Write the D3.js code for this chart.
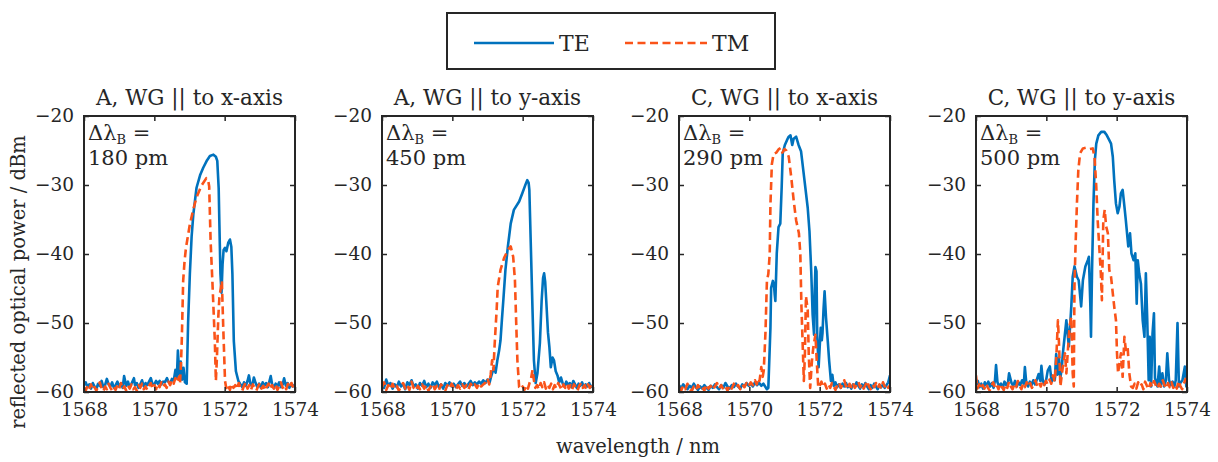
<!DOCTYPE html>
<html><head><meta charset="utf-8">
<script src="https://cdn.jsdelivr.net/npm/d3@7"></script>
<style>
html,body{margin:0;padding:0;background:#fff;}
text{font-family:"DejaVu Serif","Liberation Serif",serif;fill:#262626;}
</style></head>
<body>
<svg id="chart" width="1218" height="462"></svg>
<script>
// ---------- data ----------
const panelTitles = ["A, WG || to x-axis","A, WG || to y-axis","C, WG || to x-axis","C, WG || to y-axis"];
const bandwidthLabels = ["180 pm","450 pm","290 pm","500 pm"];
const xTicks = [1568,1570,1572,1574];
const yTicks = [-60,-50,-40,-30,-20];
const seriesNames = ["TE","TM"];

const p1TE = [[1568.00,-59.0],[1568.05,-58.6],[1568.10,-59.3],[1568.15,-58.9],[1568.20,-59.5],[1568.25,-58.7],[1568.30,-59.2],[1568.35,-59.6],[1568.40,-58.8],[1568.45,-59.1],[1568.50,-58.4],[1568.55,-59.3],[1568.60,-59.0],[1568.65,-58.1],[1568.70,-58.9],[1568.75,-59.2],[1568.80,-58.6],[1568.85,-59.4],[1568.90,-59.0],[1568.95,-58.5],[1569.00,-59.2],[1569.05,-58.8],[1569.10,-59.4],[1569.14,-57.7],[1569.20,-59.1],[1569.25,-58.5],[1569.30,-59.3],[1569.35,-58.8],[1569.42,-58.0],[1569.45,-59.0],[1569.50,-58.7],[1569.55,-59.4],[1569.60,-58.9],[1569.65,-58.3],[1569.70,-59.2],[1569.75,-58.7],[1569.80,-59.0],[1569.85,-58.5],[1569.90,-58.0],[1569.95,-58.9],[1570.00,-58.9],[1570.05,-58.4],[1570.10,-58.8],[1570.15,-58.4],[1570.20,-58.9],[1570.25,-58.5],[1570.30,-58.6],[1570.36,-58.0],[1570.40,-58.5],[1570.45,-58.8],[1570.50,-58.1],[1570.55,-58.4],[1570.60,-56.8],[1570.64,-58.0],[1570.67,-54.0],[1570.71,-57.5],[1570.75,-55.6],[1570.79,-58.2],[1570.83,-56.5],[1570.87,-58.6],[1570.92,-58.8],[1570.96,-50.0],[1571.01,-42.9],[1571.06,-37.5],[1571.11,-34.2],[1571.20,-30.4],[1571.30,-28.6],[1571.39,-27.5],[1571.50,-26.4],[1571.58,-25.8],[1571.68,-25.6],[1571.75,-25.9],[1571.79,-26.5],[1571.83,-30.5],[1571.85,-35.7],[1571.88,-42.9],[1571.91,-45.6],[1571.94,-41.5],[1571.97,-39.4],[1572.01,-39.1],[1572.05,-39.6],[1572.10,-38.4],[1572.15,-37.9],[1572.19,-39.0],[1572.22,-42.9],[1572.26,-52.6],[1572.32,-57.0],[1572.39,-58.4],[1572.45,-58.9],[1572.50,-59.3],[1572.55,-58.6],[1572.60,-59.1],[1572.65,-58.4],[1572.69,-57.6],[1572.73,-58.8],[1572.78,-59.2],[1572.83,-57.9],[1572.88,-58.7],[1572.93,-59.3],[1572.98,-58.8],[1573.03,-59.4],[1573.08,-58.6],[1573.13,-59.1],[1573.18,-58.7],[1573.23,-59.3],[1573.28,-58.3],[1573.31,-57.7],[1573.35,-58.9],[1573.40,-59.4],[1573.45,-58.8],[1573.50,-59.2],[1573.55,-58.6],[1573.60,-59.3],[1573.65,-58.9],[1573.69,-58.0],[1573.74,-59.1],[1573.79,-58.7],[1573.84,-59.4],[1573.89,-58.8],[1573.94,-59.2],[1574.00,-58.9]];
const p1TM = [[1568.00,-59.4],[1568.05,-59.8],[1568.10,-59.1],[1568.15,-59.6],[1568.20,-58.9],[1568.25,-59.7],[1568.30,-59.3],[1568.35,-59.8],[1568.40,-59.2],[1568.45,-58.6],[1568.50,-59.5],[1568.55,-59.9],[1568.60,-59.2],[1568.65,-59.6],[1568.70,-58.8],[1568.75,-59.4],[1568.80,-59.8],[1568.85,-59.3],[1568.90,-59.7],[1568.95,-59.0],[1569.00,-59.5],[1569.05,-58.7],[1569.10,-59.6],[1569.15,-59.2],[1569.20,-59.8],[1569.25,-59.1],[1569.30,-59.5],[1569.35,-58.9],[1569.40,-59.6],[1569.45,-59.3],[1569.50,-59.8],[1569.55,-59.0],[1569.60,-59.4],[1569.65,-58.8],[1569.70,-59.6],[1569.75,-59.2],[1569.80,-59.7],[1569.85,-59.1],[1569.90,-58.7],[1569.95,-59.5],[1570.00,-59.0],[1570.05,-59.6],[1570.10,-58.8],[1570.15,-59.3],[1570.20,-58.6],[1570.25,-59.2],[1570.30,-58.9],[1570.35,-59.4],[1570.40,-58.5],[1570.45,-59.0],[1570.50,-58.3],[1570.55,-58.8],[1570.60,-58.0],[1570.65,-58.6],[1570.70,-57.8],[1570.73,-58.8],[1570.76,-55.5],[1570.78,-52.6],[1570.82,-43.9],[1570.86,-41.0],[1570.90,-39.1],[1571.01,-35.7],[1571.11,-33.5],[1571.20,-31.8],[1571.34,-30.1],[1571.48,-29.0],[1571.53,-29.3],[1571.56,-30.2],[1571.60,-38.1],[1571.65,-43.9],[1571.72,-52.6],[1571.75,-58.4],[1571.78,-55.0],[1571.82,-49.0],[1571.85,-46.3],[1571.92,-43.9],[1571.96,-50.7],[1572.01,-58.4],[1572.05,-59.6],[1572.10,-59.1],[1572.15,-59.7],[1572.20,-58.8],[1572.25,-59.4],[1572.30,-59.0],[1572.35,-59.6],[1572.40,-58.7],[1572.45,-59.3],[1572.50,-59.8],[1572.55,-59.1],[1572.60,-58.6],[1572.65,-59.5],[1572.70,-59.0],[1572.75,-59.7],[1572.80,-58.9],[1572.85,-59.4],[1572.90,-59.8],[1572.95,-59.2],[1573.00,-58.7],[1573.05,-59.5],[1573.10,-59.1],[1573.15,-59.8],[1573.20,-59.2],[1573.25,-58.8],[1573.30,-59.6],[1573.35,-59.0],[1573.40,-59.5],[1573.45,-58.9],[1573.50,-59.7],[1573.55,-59.2],[1573.60,-58.6],[1573.65,-59.4],[1573.70,-59.0],[1573.75,-59.6],[1573.80,-58.8],[1573.85,-59.3],[1573.90,-58.7],[1573.95,-59.4],[1574.00,-59.1]];

const p2TE = [[1568.00,-58.8],[1568.06,-59.4],[1568.12,-58.2],[1568.18,-59.1],[1568.24,-58.7],[1568.30,-59.5],[1568.36,-58.9],[1568.42,-59.3],[1568.48,-58.5],[1568.54,-59.2],[1568.60,-58.8],[1568.66,-59.6],[1568.72,-58.6],[1568.78,-59.0],[1568.84,-58.3],[1568.90,-59.2],[1568.96,-58.9],[1569.02,-59.5],[1569.08,-58.7],[1569.14,-59.1],[1569.20,-58.4],[1569.26,-59.3],[1569.32,-58.8],[1569.38,-59.4],[1569.44,-58.6],[1569.50,-59.0],[1569.56,-58.5],[1569.62,-59.3],[1569.68,-58.9],[1569.74,-59.5],[1569.80,-58.7],[1569.86,-59.1],[1569.92,-58.6],[1569.98,-59.2],[1570.04,-58.8],[1570.10,-59.3],[1570.16,-58.9],[1570.22,-58.5],[1570.28,-59.1],[1570.34,-58.7],[1570.40,-59.2],[1570.46,-58.8],[1570.52,-58.4],[1570.58,-59.0],[1570.64,-58.6],[1570.70,-58.9],[1570.76,-58.5],[1570.82,-58.8],[1570.88,-58.3],[1570.94,-58.7],[1571.00,-58.2],[1571.06,-58.6],[1571.10,-57.8],[1571.13,-57.3],[1571.18,-56.5],[1571.23,-57.2],[1571.28,-55.4],[1571.33,-54.0],[1571.37,-52.5],[1571.41,-49.5],[1571.45,-46.7],[1571.51,-42.3],[1571.58,-38.9],[1571.66,-35.6],[1571.75,-33.6],[1571.90,-32.4],[1571.99,-31.2],[1572.09,-29.8],[1572.13,-29.3],[1572.17,-29.7],[1572.19,-30.7],[1572.23,-38.4],[1572.28,-48.1],[1572.32,-55.4],[1572.37,-58.7],[1572.42,-57.3],[1572.49,-52.9],[1572.54,-46.7],[1572.58,-43.5],[1572.61,-42.8],[1572.64,-44.0],[1572.67,-46.7],[1572.72,-51.4],[1572.76,-53.5],[1572.80,-56.4],[1572.85,-55.0],[1572.89,-55.4],[1572.94,-57.0],[1572.99,-57.6],[1573.04,-58.6],[1573.09,-57.9],[1573.14,-58.8],[1573.19,-59.2],[1573.24,-58.5],[1573.29,-59.0],[1573.34,-58.7],[1573.39,-59.3],[1573.44,-58.4],[1573.49,-58.9],[1573.54,-59.4],[1573.59,-58.8],[1573.64,-59.1],[1573.69,-58.6],[1573.74,-59.3],[1573.79,-58.9],[1573.84,-59.2],[1573.89,-58.7],[1573.94,-59.3],[1574.00,-59.0]];
const p2TM = [[1568.00,-59.3],[1568.06,-58.6],[1568.12,-59.7],[1568.18,-59.0],[1568.24,-59.6],[1568.30,-58.8],[1568.36,-59.5],[1568.42,-59.1],[1568.48,-59.8],[1568.54,-59.2],[1568.60,-58.7],[1568.66,-59.5],[1568.72,-59.0],[1568.78,-59.7],[1568.84,-58.5],[1568.90,-59.4],[1568.96,-59.8],[1569.02,-59.1],[1569.08,-59.6],[1569.14,-58.9],[1569.20,-59.5],[1569.26,-59.0],[1569.32,-59.8],[1569.38,-59.2],[1569.44,-58.8],[1569.50,-59.6],[1569.56,-59.1],[1569.62,-59.7],[1569.68,-58.9],[1569.74,-59.4],[1569.80,-59.8],[1569.86,-59.0],[1569.92,-59.5],[1569.98,-58.8],[1570.04,-59.3],[1570.10,-59.7],[1570.16,-59.0],[1570.22,-59.5],[1570.28,-58.9],[1570.34,-59.4],[1570.40,-59.0],[1570.46,-59.6],[1570.52,-58.8],[1570.58,-59.3],[1570.64,-58.9],[1570.70,-59.4],[1570.76,-58.7],[1570.82,-59.2],[1570.88,-58.9],[1570.95,-58.6],[1571.00,-58.0],[1571.05,-58.9],[1571.09,-57.5],[1571.13,-55.4],[1571.17,-56.8],[1571.20,-53.4],[1571.26,-48.1],[1571.29,-44.8],[1571.37,-42.3],[1571.47,-40.6],[1571.58,-39.4],[1571.66,-38.9],[1571.73,-40.4],[1571.78,-43.8],[1571.82,-50.6],[1571.85,-55.4],[1571.90,-59.3],[1571.95,-59.6],[1572.00,-59.2],[1572.05,-59.7],[1572.10,-59.0],[1572.15,-59.5],[1572.20,-58.6],[1572.24,-58.0],[1572.28,-56.8],[1572.32,-58.3],[1572.36,-59.4],[1572.41,-59.0],[1572.46,-59.6],[1572.51,-58.7],[1572.56,-59.3],[1572.61,-58.6],[1572.66,-59.5],[1572.71,-58.9],[1572.76,-59.4],[1572.81,-58.8],[1572.86,-59.6],[1572.91,-59.0],[1572.96,-59.5],[1573.01,-58.7],[1573.06,-59.2],[1573.11,-59.7],[1573.16,-58.9],[1573.21,-59.4],[1573.26,-58.8],[1573.31,-59.5],[1573.36,-59.0],[1573.41,-59.6],[1573.46,-58.9],[1573.51,-59.3],[1573.56,-59.8],[1573.61,-59.1],[1573.66,-58.7],[1573.71,-59.4],[1573.76,-59.0],[1573.81,-59.6],[1573.86,-58.9],[1573.91,-59.4],[1573.96,-59.0],[1574.00,-59.3]];

const p3TE = [[1568.00,-59.0],[1568.06,-59.5],[1568.12,-58.9],[1568.18,-59.3],[1568.24,-59.6],[1568.30,-59.1],[1568.36,-59.4],[1568.42,-58.8],[1568.48,-59.3],[1568.54,-59.7],[1568.60,-59.2],[1568.66,-59.5],[1568.72,-59.0],[1568.78,-59.4],[1568.84,-59.7],[1568.90,-59.1],[1568.96,-59.4],[1569.02,-58.9],[1569.08,-59.3],[1569.14,-59.6],[1569.20,-59.0],[1569.26,-59.4],[1569.32,-58.7],[1569.38,-59.2],[1569.44,-59.5],[1569.50,-59.0],[1569.56,-59.3],[1569.62,-58.8],[1569.68,-59.2],[1569.74,-59.5],[1569.80,-58.9],[1569.86,-59.2],[1569.92,-58.7],[1569.98,-59.1],[1570.04,-58.8],[1570.10,-59.2],[1570.16,-58.6],[1570.22,-59.0],[1570.28,-58.7],[1570.34,-59.1],[1570.40,-58.8],[1570.45,-59.2],[1570.50,-59.6],[1570.54,-59.4],[1570.60,-50.7],[1570.62,-44.9],[1570.67,-43.9],[1570.70,-44.5],[1570.72,-45.8],[1570.74,-46.8],[1570.78,-39.9],[1570.83,-36.1],[1570.88,-35.6],[1570.92,-30.3],[1570.95,-25.4],[1571.01,-24.2],[1571.07,-23.5],[1571.12,-23.0],[1571.17,-22.8],[1571.22,-24.2],[1571.26,-23.3],[1571.33,-23.0],[1571.40,-24.2],[1571.47,-25.1],[1571.57,-29.4],[1571.66,-33.3],[1571.71,-36.7],[1571.76,-42.5],[1571.80,-48.8],[1571.84,-51.7],[1571.86,-45.0],[1571.88,-41.9],[1571.91,-42.5],[1571.93,-51.7],[1571.97,-56.4],[1572.03,-50.7],[1572.06,-52.5],[1572.08,-51.5],[1572.11,-48.0],[1572.14,-45.4],[1572.18,-49.2],[1572.23,-52.6],[1572.27,-55.5],[1572.32,-58.4],[1572.36,-57.5],[1572.40,-59.1],[1572.45,-58.6],[1572.50,-59.3],[1572.55,-58.9],[1572.60,-59.4],[1572.65,-58.8],[1572.70,-59.2],[1572.75,-58.7],[1572.80,-59.3],[1572.85,-59.0],[1572.90,-59.5],[1572.95,-58.9],[1573.00,-59.2],[1573.05,-58.6],[1573.10,-59.1],[1573.15,-59.5],[1573.20,-58.9],[1573.25,-59.3],[1573.30,-58.7],[1573.35,-59.2],[1573.40,-59.6],[1573.45,-59.0],[1573.50,-59.4],[1573.55,-58.8],[1573.60,-59.2],[1573.65,-59.6],[1573.70,-59.0],[1573.75,-59.3],[1573.80,-58.9],[1573.85,-59.4],[1573.90,-59.0],[1573.95,-58.6],[1574.00,-57.6]];
const p3TM = [[1568.00,-59.4],[1568.06,-59.8],[1568.12,-59.1],[1568.18,-59.6],[1568.24,-58.8],[1568.30,-59.5],[1568.36,-59.9],[1568.42,-59.2],[1568.48,-59.7],[1568.54,-59.0],[1568.60,-59.6],[1568.66,-59.3],[1568.72,-59.8],[1568.78,-58.9],[1568.84,-59.5],[1568.90,-59.1],[1568.96,-59.7],[1569.02,-59.2],[1569.08,-58.7],[1569.14,-59.5],[1569.20,-59.0],[1569.26,-59.6],[1569.32,-59.2],[1569.38,-59.8],[1569.44,-59.0],[1569.50,-59.5],[1569.56,-58.8],[1569.62,-59.4],[1569.68,-59.0],[1569.74,-59.6],[1569.80,-58.9],[1569.86,-59.3],[1569.92,-58.7],[1569.98,-59.2],[1570.04,-58.6],[1570.10,-59.0],[1570.16,-58.3],[1570.21,-58.9],[1570.25,-58.0],[1570.29,-58.4],[1570.34,-56.4],[1570.38,-57.8],[1570.41,-56.9],[1570.46,-51.2],[1570.50,-43.9],[1570.54,-42.9],[1570.58,-40.0],[1570.60,-32.8],[1570.64,-27.0],[1570.69,-25.5],[1570.77,-25.3],[1570.84,-24.8],[1570.90,-24.6],[1570.94,-25.3],[1571.00,-24.8],[1571.05,-25.0],[1571.12,-25.9],[1571.19,-28.8],[1571.26,-32.2],[1571.33,-35.1],[1571.41,-37.0],[1571.45,-40.0],[1571.48,-47.3],[1571.52,-53.6],[1571.55,-58.4],[1571.58,-54.6],[1571.61,-46.1],[1571.66,-48.1],[1571.69,-54.6],[1571.73,-59.4],[1571.78,-55.5],[1571.82,-53.5],[1571.88,-51.7],[1571.92,-55.8],[1571.96,-59.4],[1572.00,-59.1],[1572.05,-58.5],[1572.10,-59.3],[1572.15,-58.8],[1572.20,-59.5],[1572.25,-58.9],[1572.30,-59.4],[1572.35,-58.7],[1572.40,-59.2],[1572.45,-59.7],[1572.50,-59.0],[1572.55,-58.6],[1572.60,-59.4],[1572.65,-58.9],[1572.70,-58.3],[1572.75,-59.2],[1572.80,-59.6],[1572.85,-58.8],[1572.90,-59.3],[1572.95,-58.7],[1573.00,-59.4],[1573.05,-59.0],[1573.10,-58.5],[1573.15,-59.3],[1573.20,-58.8],[1573.25,-59.5],[1573.30,-59.0],[1573.35,-58.4],[1573.40,-59.2],[1573.45,-59.6],[1573.50,-58.9],[1573.55,-59.3],[1573.60,-58.7],[1573.65,-59.4],[1573.70,-58.9],[1573.75,-59.5],[1573.80,-58.6],[1573.85,-59.2],[1573.90,-58.8],[1573.95,-59.4],[1574.00,-59.0]];

const p4TE = [[1568.00,-59.0],[1568.05,-58.4],[1568.10,-59.3],[1568.15,-58.8],[1568.20,-59.5],[1568.25,-58.6],[1568.30,-59.1],[1568.35,-58.5],[1568.40,-59.2],[1568.45,-58.7],[1568.50,-59.4],[1568.54,-58.3],[1568.57,-56.1],[1568.61,-58.6],[1568.66,-59.2],[1568.71,-58.8],[1568.76,-59.4],[1568.81,-58.5],[1568.86,-59.0],[1568.91,-58.6],[1568.94,-57.3],[1569.01,-58.7],[1569.06,-59.1],[1569.11,-58.4],[1569.16,-59.2],[1569.21,-58.6],[1569.26,-59.0],[1569.31,-58.3],[1569.36,-58.8],[1569.39,-56.4],[1569.43,-58.7],[1569.48,-59.2],[1569.53,-58.5],[1569.58,-59.0],[1569.63,-58.3],[1569.68,-58.9],[1569.73,-58.2],[1569.78,-57.4],[1569.83,-58.4],[1569.86,-56.2],[1569.90,-58.4],[1569.95,-58.9],[1570.00,-58.1],[1570.04,-56.9],[1570.10,-56.3],[1570.15,-58.5],[1570.20,-57.8],[1570.24,-58.3],[1570.28,-54.5],[1570.32,-57.5],[1570.36,-55.0],[1570.40,-57.9],[1570.44,-56.5],[1570.47,-54.4],[1570.57,-49.6],[1570.64,-53.4],[1570.71,-47.6],[1570.75,-43.3],[1570.80,-41.8],[1570.87,-43.3],[1570.92,-43.8],[1570.99,-47.6],[1571.04,-43.8],[1571.11,-41.8],[1571.18,-40.9],[1571.21,-40.4],[1571.25,-47.2],[1571.27,-52.0],[1571.30,-42.3],[1571.34,-32.7],[1571.38,-26.4],[1571.42,-24.0],[1571.48,-22.8],[1571.56,-22.3],[1571.65,-22.3],[1571.72,-22.8],[1571.79,-23.5],[1571.84,-24.0],[1571.89,-25.9],[1571.93,-29.3],[1571.98,-32.7],[1572.03,-34.1],[1572.08,-33.1],[1572.12,-31.2],[1572.17,-30.7],[1572.22,-33.1],[1572.26,-35.1],[1572.33,-38.9],[1572.38,-37.0],[1572.42,-39.9],[1572.48,-40.9],[1572.53,-39.9],[1572.57,-47.2],[1572.60,-40.9],[1572.64,-42.8],[1572.69,-44.3],[1572.74,-49.6],[1572.79,-52.0],[1572.83,-42.8],[1572.87,-49.6],[1572.91,-58.3],[1572.94,-52.0],[1572.98,-59.2],[1573.02,-51.5],[1573.06,-48.6],[1573.09,-58.0],[1573.16,-59.2],[1573.21,-56.3],[1573.25,-59.2],[1573.30,-57.3],[1573.35,-59.2],[1573.40,-58.3],[1573.44,-54.4],[1573.49,-58.3],[1573.54,-59.0],[1573.59,-58.5],[1573.64,-59.2],[1573.68,-58.3],[1573.73,-50.0],[1573.77,-59.2],[1573.82,-58.6],[1573.87,-58.3],[1573.94,-56.3],[1573.98,-59.2],[1574.00,-58.8]];
const p4TM = [[1568.00,-57.6],[1568.04,-59.5],[1568.09,-58.9],[1568.14,-59.6],[1568.19,-59.0],[1568.24,-59.5],[1568.29,-58.8],[1568.34,-59.4],[1568.39,-59.8],[1568.44,-59.1],[1568.49,-58.6],[1568.54,-59.4],[1568.59,-59.0],[1568.64,-59.6],[1568.69,-58.8],[1568.74,-59.3],[1568.79,-59.7],[1568.84,-58.9],[1568.89,-59.4],[1568.94,-58.5],[1568.99,-59.2],[1569.04,-59.6],[1569.09,-58.9],[1569.14,-59.3],[1569.19,-58.4],[1569.24,-59.1],[1569.29,-59.6],[1569.34,-58.8],[1569.39,-59.3],[1569.44,-58.6],[1569.49,-59.2],[1569.54,-58.7],[1569.59,-59.4],[1569.64,-58.9],[1569.69,-58.3],[1569.74,-59.1],[1569.79,-58.6],[1569.84,-59.2],[1569.89,-58.5],[1569.94,-59.0],[1569.99,-58.4],[1570.04,-58.9],[1570.09,-58.2],[1570.14,-58.8],[1570.19,-57.6],[1570.24,-58.5],[1570.28,-55.4],[1570.33,-49.6],[1570.36,-53.0],[1570.40,-59.2],[1570.47,-56.3],[1570.53,-54.4],[1570.57,-57.3],[1570.62,-53.4],[1570.66,-50.5],[1570.71,-49.1],[1570.75,-57.3],[1570.78,-59.2],[1570.80,-44.7],[1570.83,-38.9],[1570.87,-32.7],[1570.91,-27.8],[1570.96,-25.4],[1571.04,-24.7],[1571.13,-24.6],[1571.23,-24.8],[1571.32,-24.7],[1571.37,-25.9],[1571.42,-30.2],[1571.46,-35.1],[1571.51,-39.4],[1571.55,-42.8],[1571.58,-46.7],[1571.62,-35.1],[1571.66,-33.6],[1571.70,-36.0],[1571.75,-37.0],[1571.79,-42.3],[1571.84,-43.3],[1571.89,-45.7],[1571.93,-47.6],[1571.98,-49.6],[1572.01,-54.4],[1572.04,-57.3],[1572.08,-55.8],[1572.12,-54.4],[1572.17,-57.8],[1572.22,-52.0],[1572.26,-53.9],[1572.31,-53.4],[1572.36,-57.3],[1572.41,-59.2],[1572.46,-59.4],[1572.51,-58.8],[1572.56,-59.5],[1572.61,-58.6],[1572.66,-59.2],[1572.71,-58.9],[1572.76,-59.6],[1572.81,-58.5],[1572.86,-59.1],[1572.91,-59.6],[1572.96,-58.7],[1573.01,-59.3],[1573.06,-58.4],[1573.11,-59.0],[1573.16,-59.5],[1573.21,-58.8],[1573.26,-59.2],[1573.31,-58.3],[1573.36,-59.0],[1573.41,-59.5],[1573.46,-58.7],[1573.51,-59.3],[1573.56,-58.6],[1573.61,-59.4],[1573.66,-58.9],[1573.71,-59.5],[1573.76,-58.4],[1573.81,-59.1],[1573.86,-59.6],[1573.91,-58.8],[1573.96,-58.1],[1574.00,-59.0]];

const teSeries = [p1TE,p2TE,p3TE,p4TE];
const tmSeries = [p1TM,p2TM,p3TM,p4TM];

// ---------- layout ----------
const svg = d3.select("#chart");
const colTE = "#0072BD", colTM = "#FA5319", ink = "#262626";
const panelLeft = [84, 382, 679, 976];
const pW = 211, pTop = 116, pBot = 392;
const fsTick = 18.5, fsTitle = 21.5, fsNote = 21, fsLabel = 19.5, fsLeg = 22;
const dash = "8,4.5", lw = 2.6;

panelLeft.forEach((L, i) => {
  const x = d3.scaleLinear().domain([1568,1574]).range([L, L+pW]);
  const y = d3.scaleLinear().domain([-60,-20]).range([pBot, pTop]);
  const g = svg.append("g");
  const cid = "clip"+i;
  svg.append("clipPath").attr("id",cid).append("rect")
     .attr("x",L).attr("y",pTop).attr("width",pW).attr("height",pBot-pTop);

  const line = d3.line().x(d=>x(d[0])).y(d=>y(d[1]));
  const lg = g.append("g").attr("clip-path",`url(#${cid})`);
  lg.append("path").datum(teSeries[i]).attr("d",line)
    .attr("fill","none").attr("stroke",colTE).attr("stroke-width",lw).attr("stroke-linejoin","round");
  lg.append("path").datum(tmSeries[i]).attr("d",line)
    .attr("fill","none").attr("stroke",colTM).attr("stroke-width",lw)
    .attr("stroke-dasharray",dash).attr("stroke-linejoin","round");

  const ax = (gen, tx, ty, labels) => {
    const a = g.append("g").attr("transform",`translate(${tx},${ty})`).call(gen);
    a.select(".domain").remove();
    a.selectAll(".tick line").attr("stroke",ink).attr("stroke-width",1.5);
    a.selectAll(".tick text").attr("font-size",fsTick).attr("fill",ink)
      .style("font-family",'"DejaVu Serif",serif');
    if(!labels) a.selectAll(".tick text").remove();
    return a;
  };
  ax(d3.axisBottom(x).tickValues(xTicks).tickSize(-5).tickPadding(11).tickFormat(d=>d), 0, pBot, true);
  ax(d3.axisTop(x).tickValues(xTicks).tickSize(-5), 0, pTop, false);
  ax(d3.axisLeft(y).tickValues(yTicks).tickSize(-5).tickPadding(10).tickFormat(d=>"\u2212"+Math.abs(d)), L, 0, true);
  ax(d3.axisRight(y).tickValues(yTicks).tickSize(-5), L+pW, 0, false);

  g.append("rect").attr("x",L).attr("y",pTop).attr("width",pW).attr("height",pBot-pTop)
   .attr("fill","none").attr("stroke",ink).attr("stroke-width",2);

  g.append("text").attr("x",L+pW/2).attr("y",105).attr("text-anchor","middle")
   .attr("font-size",fsTitle).text(panelTitles[i]);

  const t1 = g.append("text").attr("x",L+4).attr("y",140).attr("font-size",fsNote);
  t1.append("tspan").text("\u0394\u03bb");
  t1.append("tspan").attr("font-size",13).attr("dy",4).text("B");
  t1.append("tspan").attr("dy",-4).text(" =");
  g.append("text").attr("x",L+4).attr("y",165).attr("font-size",fsNote).text(bandwidthLabels[i]);
});

svg.append("text").attr("x",638).attr("y",453).attr("text-anchor","middle")
   .attr("font-size",fsLabel).text("wavelength / nm");
svg.append("text").attr("transform","translate(25,282) rotate(-90)").attr("text-anchor","middle")
   .attr("font-size",fsLabel).text("reflected optical power / dBm");

const leg = svg.append("g");
leg.append("rect").attr("x",447).attr("y",13).attr("width",328).attr("height",56)
   .attr("fill","#fff").attr("stroke",ink).attr("stroke-width",2);
const legItems = [{name:seriesNames[0],col:colTE,x1:474,x2:554,dash:null},
                  {name:seriesNames[1],col:colTM,x1:625,x2:707,dash:dash}];
legItems.forEach(it=>{
  leg.append("line").attr("x1",it.x1).attr("x2",it.x2).attr("y1",43).attr("y2",43)
     .attr("stroke",it.col).attr("stroke-width",lw).attr("stroke-dasharray",it.dash);
  leg.append("text").attr("x",it.x2+5).attr("y",51).attr("font-size",fsLeg).text(it.name);
});
</script>
</body></html>
